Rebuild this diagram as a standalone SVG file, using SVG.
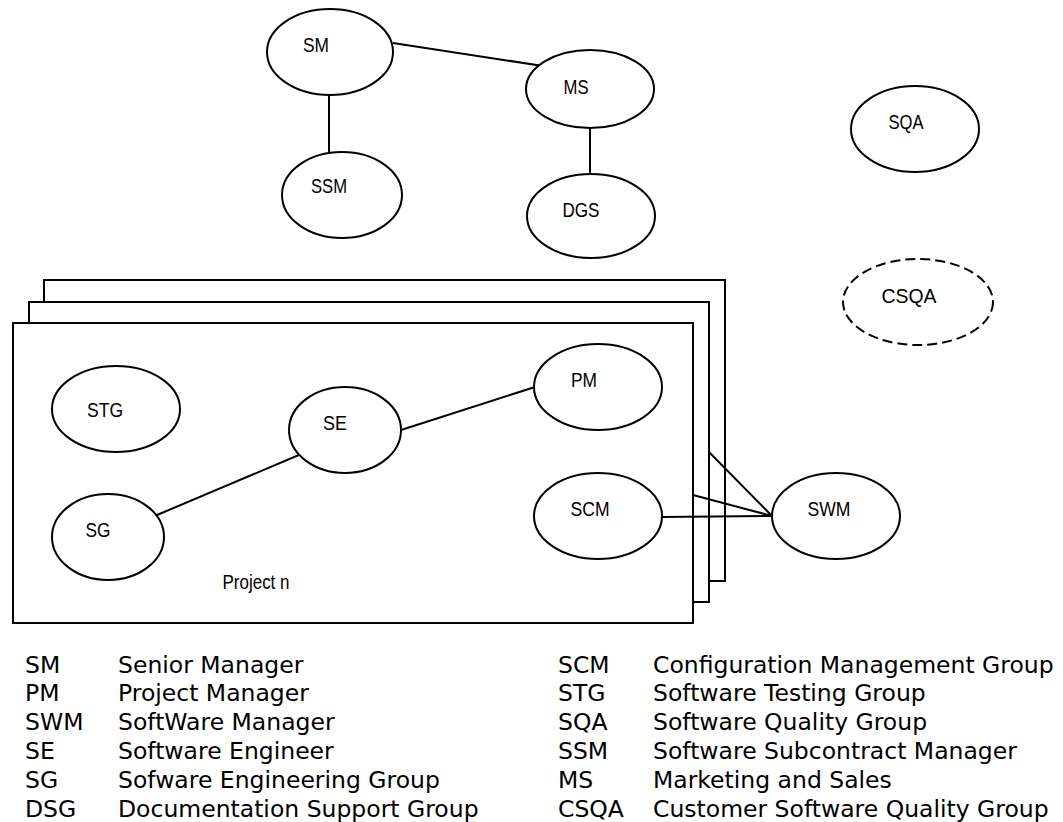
<svg xmlns="http://www.w3.org/2000/svg" width="1063" height="822" viewBox="0 0 1063 822">
<style>
.bg{fill:#ffffff}
.nd{fill:#ffffff;stroke:#000;stroke-width:2}
.dash{fill:#ffffff;stroke:#000;stroke-width:2;stroke-dasharray:10 5}
.pr{fill:#ffffff;stroke:#000;stroke-width:2}
.ln{stroke:#000;stroke-width:2;fill:none}
.lb{font-family:"Liberation Sans",Arial,sans-serif;font-size:21px;fill:#000;text-anchor:middle}
.lg{font-family:"DejaVu Sans",Verdana,sans-serif;font-size:23.5px;fill:#000}
</style>
<rect class="bg" x="0" y="0" width="1063" height="822"/>
<g id="projects">
<rect class="pr" x="44" y="280" width="681" height="301"/>
<rect class="pr" x="29" y="302" width="680" height="300"/>
<rect class="pr" x="13" y="323" width="680" height="300"/>
<text class="lb" x="256" y="589" textLength="67" lengthAdjust="spacingAndGlyphs">Project n</text>
</g>
<g id="connectors">
<line class="ln" x1="393" y1="43" x2="543" y2="66"/>
<line class="ln" x1="329" y1="87" x2="329" y2="152"/>
<line class="ln" x1="590" y1="129" x2="590" y2="173"/>
<line class="ln" x1="157" y1="515" x2="306" y2="452"/>
<line class="ln" x1="401" y1="430" x2="535" y2="387"/>
<line class="ln" x1="662" y1="517" x2="772" y2="516"/>
<line class="ln" x1="709" y1="452" x2="772" y2="516"/>
<line class="ln" x1="693" y1="495" x2="772" y2="516"/>
</g>
<g id="SM"><ellipse class="nd" cx="330" cy="52" rx="63" ry="43"/><text class="lb" x="316" y="52" textLength="26" lengthAdjust="spacingAndGlyphs">SM</text></g>
<g id="MS"><ellipse class="nd" cx="590" cy="89" rx="64" ry="39"/><text class="lb" x="576" y="94" textLength="25" lengthAdjust="spacingAndGlyphs">MS</text></g>
<g id="SSM"><ellipse class="nd" cx="342" cy="195" rx="60" ry="43"/><text class="lb" x="329" y="193" textLength="36" lengthAdjust="spacingAndGlyphs">SSM</text></g>
<g id="DGS"><ellipse class="nd" cx="591" cy="216" rx="64" ry="42"/><text class="lb" x="581" y="217" textLength="37" lengthAdjust="spacingAndGlyphs">DGS</text></g>
<g id="SQA"><ellipse class="nd" cx="915" cy="129" rx="64" ry="43"/><text class="lb" x="906" y="129" textLength="35" lengthAdjust="spacingAndGlyphs">SQA</text></g>
<g id="CSQA"><ellipse class="dash" cx="918" cy="302" rx="75" ry="43"/><text class="lb" x="909" y="303" textLength="55" lengthAdjust="spacingAndGlyphs">CSQA</text></g>
<g id="STG"><ellipse class="nd" cx="116" cy="409" rx="64" ry="43"/><text class="lb" x="105" y="417" textLength="36" lengthAdjust="spacingAndGlyphs">STG</text></g>
<g id="SE"><ellipse class="nd" cx="345" cy="430" rx="56" ry="43"/><text class="lb" x="335" y="430" textLength="24" lengthAdjust="spacingAndGlyphs">SE</text></g>
<g id="PM"><ellipse class="nd" cx="598" cy="387" rx="64" ry="43"/><text class="lb" x="584" y="387" textLength="26" lengthAdjust="spacingAndGlyphs">PM</text></g>
<g id="SG"><ellipse class="nd" cx="108" cy="537" rx="56" ry="43"/><text class="lb" x="98" y="537" textLength="25" lengthAdjust="spacingAndGlyphs">SG</text></g>
<g id="SCM"><ellipse class="nd" cx="598" cy="516" rx="64" ry="43"/><text class="lb" x="590" y="516" textLength="39" lengthAdjust="spacingAndGlyphs">SCM</text></g>
<g id="SWM"><ellipse class="nd" cx="836" cy="516" rx="64" ry="43"/><text class="lb" x="829" y="516" textLength="43" lengthAdjust="spacingAndGlyphs">SWM</text></g>
<g id="legend">
<text class="lg" x="25" y="672.5">SM</text><text class="lg" x="118" y="672.5">Senior Manager</text>
<text class="lg" x="25" y="701.3">PM</text><text class="lg" x="118" y="701.3">Project Manager</text>
<text class="lg" x="25" y="730.1">SWM</text><text class="lg" x="118" y="730.1">SoftWare Manager</text>
<text class="lg" x="25" y="758.9">SE</text><text class="lg" x="118" y="758.9">Software Engineer</text>
<text class="lg" x="25" y="787.7">SG</text><text class="lg" x="118" y="787.7">Sofware Engineering Group</text>
<text class="lg" x="25" y="816.5">DSG</text><text class="lg" x="118" y="816.5">Documentation Support Group</text>
<text class="lg" x="558" y="672.5">SCM</text><text class="lg" x="653" y="672.5">Configuration Management Group</text>
<text class="lg" x="558" y="701.3">STG</text><text class="lg" x="653" y="701.3">Software Testing Group</text>
<text class="lg" x="558" y="730.1">SQA</text><text class="lg" x="653" y="730.1">Software Quality Group</text>
<text class="lg" x="558" y="758.9">SSM</text><text class="lg" x="653" y="758.9">Software Subcontract Manager</text>
<text class="lg" x="558" y="787.7">MS</text><text class="lg" x="653" y="787.7">Marketing and Sales</text>
<text class="lg" x="558" y="816.5">CSQA</text><text class="lg" x="653" y="816.5">Customer Software Quality Group</text>
</g>
</svg>
